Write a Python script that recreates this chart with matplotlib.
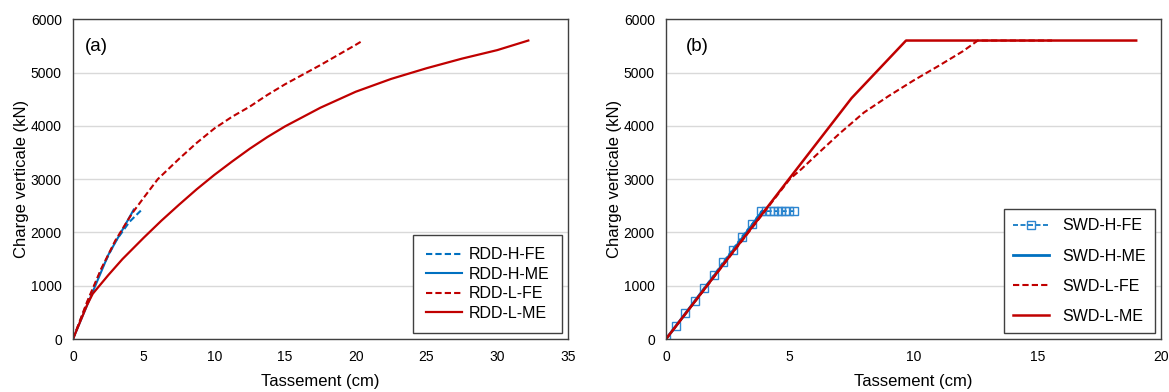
import matplotlib
matplotlib.use("Agg")
import matplotlib.pyplot as plt

plt.rcParams['font.family'] = ['Liberation Sans', 'DejaVu Sans']

BLUE = '#0070C0'
RED = '#C00000'

# (a) RDD curves
rdd_h_fe_x = [0, 1, 2, 3, 4, 4.8]
rdd_h_fe_y = [0, 680, 1300, 1830, 2200, 2410]
rdd_h_me_x = [0, 1.5, 2.5, 3.5, 4.3]
rdd_h_me_y = [0, 950, 1580, 2050, 2430]
rdd_l_fe_x = [0, 1, 2, 3, 4, 4.3, 5, 6, 7.5, 8.75, 10, 11.25, 12.5, 13.75, 15, 17.5, 20, 20.5]
rdd_l_fe_y = [0, 700, 1320, 1850, 2280, 2400, 2650, 3000, 3380, 3680, 3950, 4170, 4360, 4580, 4780, 5140, 5520, 5600]
rdd_l_me_x = [0, 0.5, 1.0, 1.4, 2.5, 3.5, 5, 6.25, 7.5, 8.75, 10, 11.25, 12.5, 13.75, 15, 17.5, 20, 22.5, 25, 27.5, 30, 32.2]
rdd_l_me_y = [0, 320, 640, 850, 1200, 1500, 1900, 2220, 2520, 2810, 3080, 3330, 3570, 3790, 3990, 4340, 4640, 4880, 5080, 5260, 5420, 5600]

# (b) SWD curves
swd_h_fe_x = [0, 0.40, 0.78, 1.16, 1.54, 1.93, 2.30, 2.69, 3.06, 3.48, 3.85,
              4.03, 4.21, 4.36, 4.51, 4.66, 4.81, 4.96, 5.18]
swd_h_fe_y = [0, 240, 480, 720, 960, 1200, 1440, 1680, 1920, 2160, 2400,
              2400, 2400, 2400, 2400, 2400, 2400, 2400, 2400]
swd_h_me_x = [0, 2, 3.9]
swd_h_me_y = [0, 1220, 2400]
swd_l_fe_x = [0, 5, 5.5, 6, 7, 8, 9, 10, 11, 12, 12.6, 15.6]
swd_l_fe_y = [0, 3000, 3200, 3420, 3850, 4250, 4560, 4850, 5120, 5400, 5600, 5600]
swd_l_me_x = [0, 5, 7.5, 9.7, 19]
swd_l_me_y = [0, 3020, 4520, 5600, 5600]

fig = plt.figure(figsize=(11.69, 3.92), dpi=100)
ax1 = fig.add_axes([0.0624, 0.135, 0.4234, 0.816])
ax2 = fig.add_axes([0.5697, 0.135, 0.4234, 0.816])


def style(ax, xmax, xstep, tag, tag_x):
    ax.set_xlim(0, xmax)
    ax.set_ylim(0, 6000)
    ax.set_xticks(range(0, xmax + 1, xstep))
    ax.set_yticks(range(0, 6001, 1000))
    ax.yaxis.grid(True, color='#d9d9d9', lw=1)
    ax.set_axisbelow(True)
    ax.tick_params(length=0, labelsize=10, pad=8)
    for sp in ax.spines.values():
        sp.set_color('#404040')
        sp.set_linewidth(1)
    ax.set_xlabel('Tassement (cm)', fontsize=12, labelpad=7)
    ax.set_ylabel('Charge verticale (kN)', fontsize=12, labelpad=1)
    ax.text(tag_x, 0.94, tag, transform=ax.transAxes, fontsize=13.5, va='top')


def legend(ax, spacing, textpad, pad):
    leg = ax.legend(loc='lower right', fontsize=11.5, handlelength=2.25,
                    handletextpad=textpad, labelspacing=spacing, borderpad=pad,
                    borderaxespad=0.35, fancybox=False, edgecolor='#404040',
                    framealpha=1)
    leg.get_frame().set_linewidth(1)
    return leg


ax1.plot(rdd_h_fe_x, rdd_h_fe_y, color=BLUE, lw=1.5, ls=(0, (3, 1.5)), label='RDD-H-FE')
ax1.plot(rdd_h_me_x, rdd_h_me_y, color=BLUE, lw=1.5, label='RDD-H-ME')
ax1.plot(rdd_l_fe_x, rdd_l_fe_y, color=RED, lw=1.5, ls=(0, (3, 1.5)), label='RDD-L-FE')
ax1.plot(rdd_l_me_x, rdd_l_me_y, color=RED, lw=1.6, label='RDD-L-ME')
style(ax1, 35, 5, '(a)', 0.025)
legend(ax1, 0.28, 0.45, 0.8)

ax2.plot(swd_h_fe_x, swd_h_fe_y, color=BLUE, lw=1.2, ls=(0, (3, 1.5)), marker='s',
         ms=5.5, mfc='none', mec='#2E86D0', mew=1, label='SWD-H-FE')
ax2.plot(swd_h_me_x, swd_h_me_y, color=BLUE, lw=2, label='SWD-H-ME')
ax2.plot(swd_l_fe_x, swd_l_fe_y, color=RED, lw=1.5, ls=(0, (3, 1.5)), label='SWD-L-FE')
ax2.plot(swd_l_me_x, swd_l_me_y, color=RED, lw=1.8, label='SWD-L-ME')
style(ax2, 20, 5, '(b)', 0.04)
legend(ax2, 0.95, 0.8, 0.6)

fig.savefig('out.png', dpi=100)
